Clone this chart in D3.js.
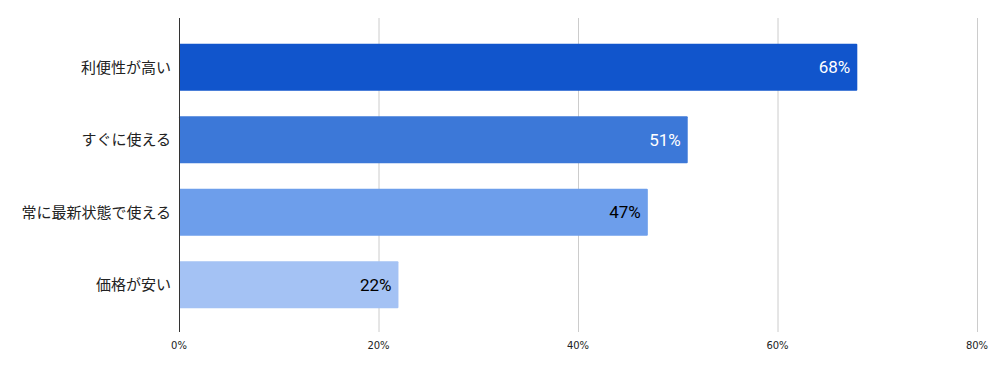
<!DOCTYPE html>
<html>
<head>
<meta charset="utf-8">
<script src="https://cdn.jsdelivr.net/npm/d3@7"></script>
<style>
  body { margin: 0; background: #fff; }
</style>
</head>
<body>
<div id="chart"></div>
<script>
// データ
const categories = ["利便性が高い", "すぐに使える", "常に最新状態で使える", "価格が安い"];
const values = [68, 51, 47, 22];
const barColors = ["#1155cc", "#3c78d8", "#6d9eeb", "#a4c2f4"];
const labelColors = ["#ffffff", "#ffffff", "#000000", "#000000"];
const ticks = [0, 20, 40, 60, 80];

const width = 995;
const height = 371;
const plotLeft = 179, plotRight = 977, plotTop = 18, plotBottom = 332;

const svg = d3
  .select("#chart")
  .append("svg")
  .attr("width", width)
  .attr("height", height);

const x = d3.scaleLinear().domain([0, 80]).range([plotLeft, plotRight]);
const y = d3
  .scaleBand()
  .domain(categories)
  .range([31, 321])
  .paddingInner(0.35)
  .paddingOuter(0.175);

// グリッド線
svg
  .selectAll(".grid")
  .data(ticks.slice(1))
  .enter()
  .append("line")
  .attr("x1", (d) => x(d) + 0.5)
  .attr("x2", (d) => x(d) + 0.5)
  .attr("y1", plotTop)
  .attr("y2", plotBottom)
  .attr("stroke", "#cccccc")
  .attr("stroke-width", 1);

// バー
svg
  .selectAll(".bar")
  .data(values)
  .enter()
  .append("rect")
  .attr("class", "bar")
  .attr("x", x(0))
  .attr("y", (d, i) => y(categories[i]))
  .attr("width", (d) => x(d) - x(0))
  .attr("height", y.bandwidth())
  .attr("rx", 1)
  .attr("fill", (d, i) => barColors[i]);

// 値ラベル
svg
  .selectAll(".val")
  .data(values)
  .enter()
  .append("text")
  .attr("x", (d) => x(d) - 7)
  .attr("y", (d, i) => y(categories[i]) + y.bandwidth() / 2)
  .attr("dy", "0.36em")
  .attr("text-anchor", "end")
  .style("font-family", "Roboto, sans-serif")
  .style("font-size", "17px")
  .attr("fill", (d, i) => labelColors[i])
  .text((d) => d + "%");

// 縦軸線
svg
  .append("line")
  .attr("x1", x(0) + 0.5)
  .attr("x2", x(0) + 0.5)
  .attr("y1", plotTop)
  .attr("y2", plotBottom)
  .attr("stroke", "#333333")
  .attr("stroke-width", 1);

// カテゴリラベル
svg
  .selectAll(".cat")
  .data(categories)
  .enter()
  .append("text")
  .attr("x", x(0) - 8)
  .attr("y", (d) => y(d) + y.bandwidth() / 2)
  .attr("dy", "0.36em")
  .attr("text-anchor", "end")
  .style("font-family", "'Noto Sans CJK JP', sans-serif")
  .style("font-size", "15px")
  .attr("fill", "#222222")
  .text((d) => d);

// 目盛りラベル
svg
  .selectAll(".tick")
  .data(ticks)
  .enter()
  .append("text")
  .attr("x", (d) => x(d))
  .attr("y", 349)
  .attr("text-anchor", "middle")
  .style("font-family", "'DejaVu Sans', sans-serif")
  .style("font-size", "10px")
  .attr("fill", "#222222")
  .text((d) => d + "%");
</script>
</body>
</html>
